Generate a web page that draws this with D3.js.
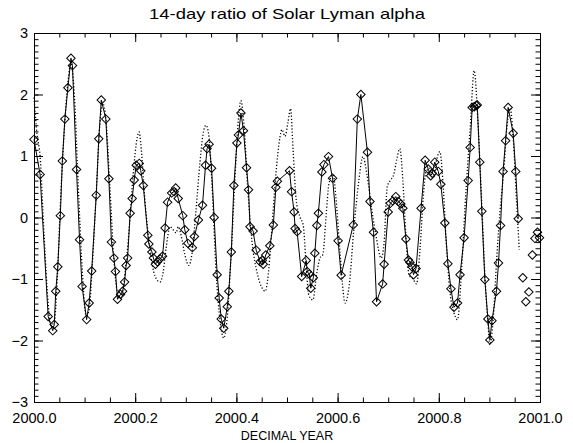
<!DOCTYPE html>
<html>
<head>
<meta charset="utf-8">
<script src="https://d3js.org/d3.v7.min.js"></script>
<style>
  body { margin: 0; background: #fff; }
  text { font-family: "Liberation Sans", Arial, sans-serif; fill: #000; }
</style>
</head>
<body>
<div id="chart"></div>
<script>
// Solid series (diamonds joined by a line): decimal year offset from 2000, ratio value.
const solidYears = [
  0.000, 0.012, 0.028, 0.037, 0.040, 0.043, 0.047, 0.052, 0.056, 0.061, 0.067, 0.073, 0.076,
  0.084, 0.090, 0.095, 0.104, 0.109, 0.114, 0.123, 0.128, 0.133, 0.142, 0.148, 0.153, 0.158,
  0.161, 0.165, 0.171, 0.175, 0.179, 0.182, 0.185, 0.190, 0.194, 0.198, 0.202, 0.208, 0.211,
  0.216, 0.225, 0.227, 0.233, 0.236, 0.240, 0.244, 0.249, 0.254, 0.259, 0.264, 0.272, 0.277,
  0.280, 0.285, 0.294, 0.298, 0.304, 0.313, 0.317, 0.325, 0.333, 0.339, 0.342, 0.346, 0.351,
  0.356, 0.362, 0.366, 0.370, 0.375, 0.382, 0.385, 0.390, 0.395, 0.401, 0.404, 0.409, 0.414,
  0.420, 0.424, 0.427, 0.433, 0.439, 0.447, 0.451, 0.453, 0.458, 0.466, 0.473, 0.478, 0.481,
  0.505, 0.509, 0.514, 0.516, 0.520, 0.529, 0.538, 0.540, 0.544, 0.547, 0.552, 0.555, 0.559,
  0.562, 0.569, 0.573, 0.582, 0.590, 0.601, 0.607, 0.631, 0.639, 0.646, 0.659, 0.664, 0.671,
  0.677, 0.689, 0.692, 0.700, 0.704, 0.709, 0.715, 0.720, 0.725, 0.729, 0.735, 0.740, 0.743,
  0.747, 0.750, 0.755, 0.765, 0.773, 0.779, 0.784, 0.787, 0.792, 0.799, 0.804, 0.812, 0.818,
  0.824, 0.830, 0.837, 0.842, 0.850, 0.858, 0.862, 0.866, 0.870, 0.874, 0.876, 0.881, 0.885,
  0.891, 0.897, 0.901, 0.905, 0.914, 0.918, 0.922, 0.927, 0.932, 0.937, 0.947, 0.952, 0.957
];
const solidValues = [
  1.27, 0.70, -1.61, -1.84, -1.74, -1.20, -0.80, 0.03, 0.92, 1.60, 2.11, 2.59, 2.47,
  0.78, -0.36, -1.12, -1.66, -1.39, -0.87, 0.36, 1.28, 1.91, 1.60, 0.63, -0.40, -0.66,
  -0.88, -1.33, -1.25, -1.20, -1.05, -0.78, -0.66, 0.07, 0.31, 0.61, 0.85, 0.88, 0.76,
  0.52, -0.29, -0.43, -0.56, -0.66, -0.76, -0.72, -0.67, -0.63, -0.17, 0.25, 0.40, 0.42,
  0.48, 0.31, 0.03, -0.20, -0.42, -0.49, -0.31, -0.04, 0.20, 0.85, 1.12, 1.19, 0.80,
  0.00, -0.93, -1.31, -1.65, -1.80, -1.45, -1.20, -0.56, 0.52, 1.21, 1.34, 1.70, 1.41,
  0.81, 0.45, -0.15, -0.22, -0.53, -0.72, -0.70, -0.76, -0.61, -0.46, -0.12, 0.49, 0.59,
  0.76, 0.42, 0.09, -0.18, -0.23, -0.96, -0.70, -0.88, -0.92, -1.15, -0.98, -0.58, -0.13,
  0.07, 0.74, 0.86, 0.99, 0.64, -0.38, -0.94, -0.12, 1.60, 2.00, 1.06, 0.26, -0.24,
  -1.37, -1.08, -0.76, 0.09, 0.23, 0.27, 0.34, 0.26, 0.22, 0.15, -0.35, -0.69, -0.73,
  -0.80, -0.93, -0.83, 0.15, 0.93, 0.79, 0.68, 0.72, 0.90, 0.75, 0.54, -0.09, -0.75,
  -1.16, -1.46, -1.39, -0.93, -0.33, 0.60, 1.14, 1.79, 1.80, 1.82, 1.83, 0.90, 0.10,
  -1.01, -1.65, -1.99, -1.68, -1.20, -0.74, -0.13, 0.75, 1.25, 1.79, 1.37, 0.75, -0.02
];

// Trailing points drawn as diamonds only.
const tailYears = [0.966, 0.972, 0.978, 0.985, 0.990, 0.995, 0.999];
const tailValues = [-0.98, -1.37, -1.21, -0.61, -0.34, -0.24, -0.33];

// Dotted series.
const dotYears = [
  0.000, 0.006, 0.012, 0.020, 0.028, 0.033, 0.040, 0.046, 0.051, 0.059, 0.067, 0.073, 0.079,
  0.087, 0.095, 0.103, 0.109, 0.115, 0.123, 0.130, 0.136, 0.142, 0.150, 0.158, 0.166, 0.172,
  0.180, 0.188, 0.196, 0.204, 0.208, 0.211, 0.219, 0.229, 0.239, 0.249, 0.255, 0.261, 0.269,
  0.275, 0.281, 0.285, 0.291, 0.298, 0.306, 0.312, 0.320, 0.328, 0.334, 0.340, 0.346, 0.352,
  0.360, 0.368, 0.375, 0.381, 0.389, 0.397, 0.403, 0.409, 0.415, 0.423, 0.431, 0.441, 0.451,
  0.457, 0.462, 0.470, 0.478, 0.486, 0.490, 0.496, 0.502, 0.507, 0.512, 0.518, 0.526, 0.532,
  0.538, 0.543, 0.551, 0.559, 0.565, 0.571, 0.577, 0.583, 0.591, 0.597, 0.605, 0.615, 0.623,
  0.632, 0.642, 0.650, 0.658, 0.668, 0.676, 0.686, 0.692, 0.698, 0.704, 0.711, 0.717, 0.723,
  0.729, 0.735, 0.741, 0.749, 0.756, 0.763, 0.769, 0.775, 0.783, 0.791, 0.796, 0.802, 0.808,
  0.814, 0.822, 0.830, 0.837, 0.844, 0.852, 0.862, 0.870, 0.877, 0.885, 0.891, 0.897, 0.901,
  0.907, 0.915, 0.921, 0.928, 0.935, 0.941, 0.947, 0.954, 0.959
];
const dotValues = [
  1.95, 1.35, 1.00, -0.30, -1.40, -1.75, -1.70, -1.00, 0.00, 1.30, 2.20, 2.50, 2.10,
  0.60, -0.80, -1.60, -1.50, -0.80, 0.40, 1.50, 1.85, 1.60, 0.50, -0.70, -1.25, -1.30,
  -0.90, -0.20, 0.70, 1.30, 1.39, 1.20, 0.30, -0.50, -0.95, -1.05, -0.90, -0.50, -0.15,
  -0.20, -0.25, -0.15, -0.30, -0.60, -0.78, -0.60, 0.10, 0.90, 1.35, 1.50, 1.30, 0.50,
  -0.90, -1.70, -1.96, -1.70, -0.70, 0.60, 1.50, 1.90, 1.50, 0.40, -0.40, -0.90, -1.15,
  -1.20, -1.00, -0.20, 0.70, 1.30, 1.43, 1.32, 1.55, 1.77, 1.10, 0.30, 0.00, -0.12,
  -0.80, -1.26, -1.34, -0.90, -0.66, -0.60, 0.00, 0.55, 0.70, 0.30, -0.60, -1.39, -1.10,
  -0.20, 0.60, 0.99, 0.70, 0.10, -0.30, -0.66, -0.40, 0.50, 0.60, 0.70, 0.95, 1.12,
  0.60, -0.30, -0.93, -1.00, -1.08, -0.50, 0.30, 0.75, 0.80, 0.75, 0.95, 1.07, 0.60,
  -0.30, -1.20, -1.55, -1.66, -1.00, 0.20, 1.45, 2.39, 1.60, 0.20, -0.93, -1.70, -2.07,
  -1.70, -0.60, 0.10, 0.72, 1.50, 1.78, 1.30, 0.21, -0.52
];

const title = '14-day ratio of Solar Lyman alpha';
const xTitle = 'DECIMAL YEAR';
const xTickValues = [2000.0, 2000.2, 2000.4, 2000.6, 2000.8, 2001.0];
const yTickValues = [-3, -2, -1, 0, 1, 2, 3];

const width = 573;
const height = 443;
const mLeft = 34, mRight = 540, mTop = 33, mBottom = 402;

const svg = d3.select('#chart')
              .append('svg')
              .attr('width', width)
              .attr('height', height);

const x = d3.scaleLinear().domain([2000, 2001]).range([mLeft, mRight]);
const y = d3.scaleLinear().domain([-3, 3]).range([mBottom, mTop]);

const solid = solidYears.map((t, i) => ({ year: 2000 + t, value: solidValues[i] }));
const tail = tailYears.map((t, i) => ({ year: 2000 + t, value: tailValues[i] }));
const dotted = dotYears.map((t, i) => ({ year: 2000 + t, value: dotValues[i] }));

// Dotted curve.
svg.append('path')
   .datum(dotted)
   .attr('fill', 'none')
   .attr('stroke', '#000')
   .attr('stroke-width', 1.3)
   .attr('stroke-dasharray', '1.2,2')
   .attr('d', d3.line().x((d) => x(d.year)).y((d) => y(d.value)).curve(d3.curveMonotoneX));

// Solid line.
svg.append('path')
   .datum(solid)
   .attr('fill', 'none')
   .attr('stroke', '#000')
   .attr('stroke-width', 1)
   .attr('d', d3.line().x((d) => x(d.year)).y((d) => y(d.value)));

// Diamonds.
const diamond = d3.symbol().type(d3.symbolSquare).size(36);
svg.selectAll('.pt')
   .data(solid.concat(tail))
   .enter()
   .append('path')
   .attr('class', 'pt')
   .attr('d', diamond)
   .attr('transform', (d) => 'translate(' + x(d.year) + ',' + y(d.value) + ') rotate(45)')
   .attr('fill', 'none')
   .attr('stroke', '#000')
   .attr('stroke-width', 1);

// Axes: ticks point inward on all four sides.
const xMinor = d3.range(0, 21).map((i) => 2000 + i * 0.05);
const yMinor = d3.range(0, 61).map((i) => -3 + i * 0.1);

function styleAxis(g) {
    g.select('.domain').remove();
    g.selectAll('line').attr('stroke', '#000');
    g.selectAll('text')
     .style('font-family', '"Liberation Sans", Arial, sans-serif')
     .style('font-size', '14.5px')
     .attr('fill', '#000');
}

svg.append('g')
   .attr('transform', 'translate(0,' + mBottom + ')')
   .call(d3.axisBottom(x).tickValues(xMinor).tickSize(-4.5).tickFormat(''))
   .call(styleAxis);
svg.append('g')
   .attr('transform', 'translate(0,' + mBottom + ')')
   .call(d3.axisBottom(x).tickValues(xTickValues).tickSize(-9).tickPadding(11).tickFormat(d3.format('.1f')))
   .call(styleAxis);
svg.append('g')
   .attr('transform', 'translate(0,' + mTop + ')')
   .call(d3.axisTop(x).tickValues(xMinor).tickSize(-4.5).tickFormat(''))
   .call(styleAxis);
svg.append('g')
   .attr('transform', 'translate(0,' + mTop + ')')
   .call(d3.axisTop(x).tickValues(xTickValues).tickSize(-9).tickFormat(''))
   .call(styleAxis);

svg.append('g')
   .attr('transform', 'translate(' + mLeft + ',0)')
   .call(d3.axisLeft(y).tickValues(yMinor).tickSize(-4.5).tickFormat(''))
   .call(styleAxis);
svg.append('g')
   .attr('transform', 'translate(' + mLeft + ',0)')
   .call(d3.axisLeft(y).tickValues(yTickValues).tickSize(-9).tickPadding(6).tickFormat(d3.format('d')))
   .call(styleAxis);
svg.append('g')
   .attr('transform', 'translate(' + mRight + ',0)')
   .call(d3.axisRight(y).tickValues(yMinor).tickSize(-4.5).tickFormat(''))
   .call(styleAxis);
svg.append('g')
   .attr('transform', 'translate(' + mRight + ',0)')
   .call(d3.axisRight(y).tickValues(yTickValues).tickSize(-9).tickFormat(''))
   .call(styleAxis);

// Frame, on half pixels so it stays crisp like the tick lines.
svg.append('rect')
   .attr('x', mLeft + 0.5)
   .attr('y', mTop + 0.5)
   .attr('width', mRight - mLeft)
   .attr('height', mBottom - mTop)
   .attr('fill', 'none')
   .attr('stroke', '#000')
   .attr('stroke-width', 1);

// Titles.
svg.append('text')
   .attr('x', (mLeft + mRight) / 2)
   .attr('y', 19)
   .attr('text-anchor', 'middle')
   .attr('textLength', 276)
   .attr('lengthAdjust', 'spacingAndGlyphs')
   .style('font-size', '15px')
   .text(title);

svg.append('text')
   .attr('x', (mLeft + mRight) / 2)
   .attr('y', 440)
   .attr('text-anchor', 'middle')
   .style('font-size', '12.5px')
   .text(xTitle);
</script>
</body>
</html>
